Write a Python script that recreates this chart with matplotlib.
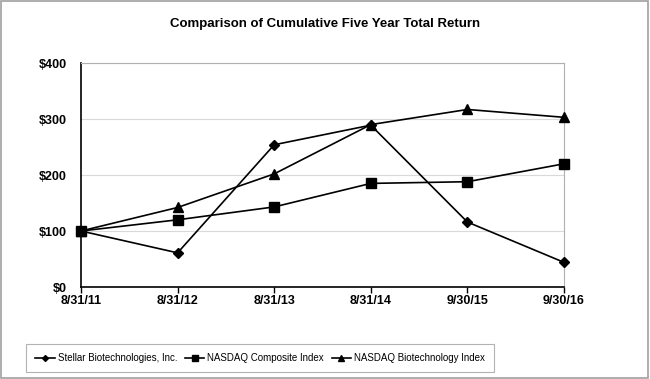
import matplotlib
matplotlib.use("Agg")
import matplotlib.pyplot as plt
from matplotlib.patches import Rectangle

plt.rcParams['font.family'] = ['Liberation Sans', 'DejaVu Sans']

dates = ["8/31/11", "8/31/12", "8/31/13", "8/31/14", "9/30/15", "9/30/16"]
stellar = [100, 61, 254, 289, 116, 44]
nasdaq_comp = [100, 120, 143, 185, 188, 220]
nasdaq_bio = [100, 142, 202, 290, 317, 303]
y_ticks = [0, 100, 200, 300, 400]

fig = plt.figure(figsize=(6.5, 3.79), dpi=100)
ax = fig.add_axes([81 / 650, 1 - 287 / 379, (564 - 81) / 650, (287 - 63) / 379])

x = range(len(dates))
ax.plot(x, stellar, color='black', lw=1.2, marker='D', ms=5, clip_on=False, zorder=4,
        label='Stellar Biotechnologies, Inc.')
ax.plot(x, nasdaq_comp, color='black', lw=1.2, marker='s', ms=7, clip_on=False, zorder=4,
        label='NASDAQ Composite Index')
ax.plot(x, nasdaq_bio, color='black', lw=1.2, marker='^', ms=7, clip_on=False, zorder=4,
        label='NASDAQ Biotechnology Index')

ax.set_xlim(0, len(dates) - 1)
ax.set_ylim(0, 400)
ax.set_xticks(list(x))
ax.set_xticklabels(dates, fontweight='bold', fontsize=9)
ax.set_yticks(y_ticks)
ax.set_yticklabels(['$%d' % v for v in y_ticks], fontweight='bold', fontsize=9)
ax.tick_params(axis='x', direction='out', length=4, width=1, pad=2)
ax.tick_params(axis='y', length=0, pad=10)
ax.grid(axis='y', color='#d9d9d9', lw=0.8)
ax.set_axisbelow(True)
for s in ['top', 'right']:
    ax.spines[s].set_color('#b0b0b0')
    ax.spines[s].set_linewidth(0.8)
for s in ['left', 'bottom']:
    ax.spines[s].set_color('black')
    ax.spines[s].set_linewidth(1.2)

fig.text(0.5, 1 - 24 / 379, 'Comparison of Cumulative Five Year Total Return',
         ha='center', va='center', fontsize=9.5, fontweight='bold')

leg = fig.legend(loc='center', bbox_to_anchor=(260 / 650, 1 - 358 / 379), ncol=3,
                 fontsize=7, frameon=True, fancybox=False, edgecolor='#a0a0a0',
                 handlelength=2.0, columnspacing=0.8, handletextpad=0.3, markerscale=0.6,
                 borderpad=0.9)
leg.get_frame().set_linewidth(0.8)

fig.patches.append(Rectangle((0.002, 0.003), 0.995, 0.994, transform=fig.transFigure,
                             fill=False, edgecolor='#a0a0a0', lw=1.2))

fig.savefig('out.png', dpi=100)
